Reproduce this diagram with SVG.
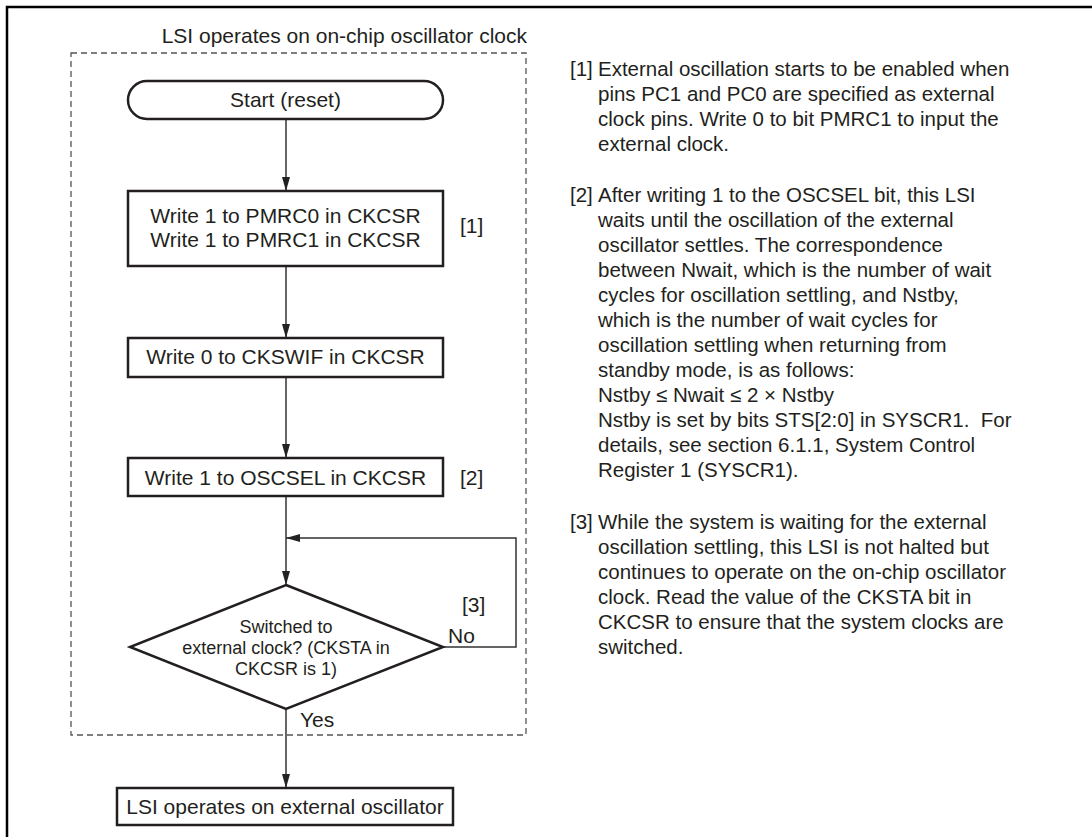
<svg xmlns="http://www.w3.org/2000/svg" width="1092" height="837" viewBox="0 0 1092 837">
<defs>
<marker id="ah" markerWidth="14" markerHeight="8" refX="14" refY="4" markerUnits="userSpaceOnUse" orient="auto">
<path d="M0,0 L14,4 L0,8 Z" fill="#222"/>
</marker>
<style>
text{font-family:"Liberation Sans",Arial,sans-serif;fill:#231f20}
.t{font-size:21px}
.d{font-size:18px}
.n{font-size:20.5px}
.box{fill:#fff;stroke:#231f20;stroke-width:2.5}
.ln{fill:none;stroke:#333;stroke-width:1.5}
</style>
</defs>
<rect width="1092" height="837" fill="#fff"/>
<rect x="7" y="7" width="1200" height="900" fill="none" stroke="#000" stroke-width="2.5"/>
<g id="region">
<rect x="71" y="53" width="455" height="682" fill="none" stroke="#555" stroke-width="1.3" stroke-dasharray="6,4"/>
<text class="t" x="527" y="43" text-anchor="end">LSI operates on on-chip oscillator clock</text>
</g>
<g id="connectors">
<line class="ln" x1="286" y1="119" x2="286" y2="191" marker-end="url(#ah)"/>
<line class="ln" x1="286" y1="266" x2="286" y2="338" marker-end="url(#ah)"/>
<line class="ln" x1="286" y1="377" x2="286" y2="458" marker-end="url(#ah)"/>
<line class="ln" x1="286" y1="496" x2="286" y2="585" marker-end="url(#ah)"/>
<polyline class="ln" points="443,647 516,647 516,538 286,538" marker-end="url(#ah)"/>
<line class="ln" x1="286" y1="709" x2="286" y2="788" marker-end="url(#ah)"/>
<text class="t" x="448" y="643">No</text>
<text class="t" x="462" y="612">[3]</text>
<text class="t" x="300" y="727">Yes</text>
</g>
<g id="start">
<rect class="box" x="128" y="81" width="315" height="38" rx="19"/>
<text class="t" x="285.5" y="107" text-anchor="middle">Start (reset)</text>
</g>
<g id="step1">
<rect class="box" x="128" y="191" width="315" height="75"/>
<text class="t" x="285.5" y="223" text-anchor="middle">Write 1 to PMRC0 in CKCSR</text>
<text class="t" x="285.5" y="247" text-anchor="middle">Write 1 to PMRC1 in CKCSR</text>
<text class="t" x="460" y="233">[1]</text>
</g>
<g id="step2">
<rect class="box" x="128" y="338" width="315" height="39"/>
<text class="t" x="285.5" y="364" text-anchor="middle">Write 0 to CKSWIF in CKCSR</text>
</g>
<g id="step3">
<rect class="box" x="128" y="458" width="315" height="38"/>
<text class="t" x="285.5" y="485" text-anchor="middle">Write 1 to OSCSEL in CKCSR</text>
<text class="t" x="460" y="485">[2]</text>
</g>
<g id="decision">
<polygon class="box" points="286,585 443,647 286,709 130,647"/>
<text class="d" x="286" y="633" text-anchor="middle">Switched to</text>
<text class="d" x="286" y="654" text-anchor="middle">external clock? (CKSTA in</text>
<text class="d" x="286" y="675" text-anchor="middle">CKCSR is 1)</text>
</g>
<g id="end">
<rect class="box" x="117" y="788" width="336" height="37"/>
<text class="t" x="285" y="814" text-anchor="middle">LSI operates on external oscillator</text>
</g>
<g id="notes">
<text class="n" x="570" y="76">[1]</text>
<text class="n" x="598" y="76">External oscillation starts to be enabled when</text>
<text class="n" x="598" y="101">pins PC1 and PC0 are specified as external</text>
<text class="n" x="598" y="126">clock pins. Write 0 to bit PMRC1 to input the</text>
<text class="n" x="598" y="151">external clock.</text>
<text class="n" x="570" y="202">[2]</text>
<text class="n" x="598" y="202">After writing 1 to the OSCSEL bit, this LSI</text>
<text class="n" x="598" y="227">waits until the oscillation of the external</text>
<text class="n" x="598" y="252">oscillator settles. The correspondence</text>
<text class="n" x="598" y="277">between Nwait, which is the number of wait</text>
<text class="n" x="598" y="302">cycles for oscillation settling, and Nstby,</text>
<text class="n" x="598" y="327">which is the number of wait cycles for</text>
<text class="n" x="598" y="352">oscillation settling when returning from</text>
<text class="n" x="598" y="377">standby mode, is as follows:</text>
<text class="n" x="598" y="402">Nstby ≤ Nwait ≤ 2 × Nstby</text>
<text class="n" x="598" y="427" xml:space="preserve">Nstby is set by bits STS[2:0] in SYSCR1.  For</text>
<text class="n" x="598" y="452">details, see section 6.1.1, System Control</text>
<text class="n" x="598" y="477">Register 1 (SYSCR1).</text>
<text class="n" x="570" y="529">[3]</text>
<text class="n" x="598" y="529">While the system is waiting for the external</text>
<text class="n" x="598" y="554">oscillation settling, this LSI is not halted but</text>
<text class="n" x="598" y="579">continues to operate on the on-chip oscillator</text>
<text class="n" x="598" y="604">clock. Read the value of the CKSTA bit in</text>
<text class="n" x="598" y="629">CKCSR to ensure that the system clocks are</text>
<text class="n" x="598" y="654">switched.</text>
</g>
</svg>
